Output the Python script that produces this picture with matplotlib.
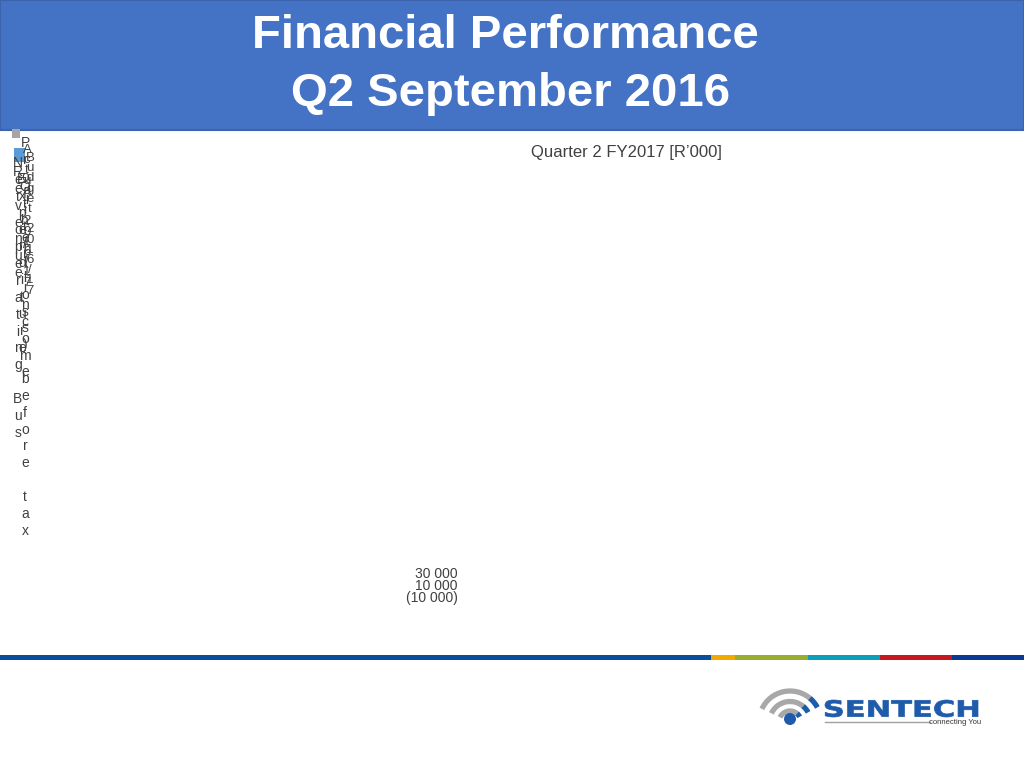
import numpy as np
import matplotlib.pyplot as plt
from matplotlib.patches import Rectangle, Arc, Circle, PathPatch
from matplotlib.textpath import TextPath
from matplotlib.font_manager import FontProperties
from matplotlib.transforms import Affine2D

plt.rcParams['font.family'] = ['Liberation Sans', 'DejaVu Sans']

# 图表数据
title_lines = ["Financial Performance", "Q2 September 2016"]
subtitle = "Quarter 2 FY2017 [R\u2019000]"
categories = ["Revenue", "Expenditure", "Other income",
              "Net operating Bus", "Profit/(loss) before tax"]
legend_labels = ["Actual 2016/17", "Budget 2016/17"]
legend_colors = ["#A6A6A6", "#5B9BD5"]
y_ticks = [30000, 10000, -10000]
stripe_colors = ["#0A4D9C", "#F2A900", "#99AD2F", "#0B9FB8", "#C8171E", "#0B3A94"]
stripe_edges = [0, 711, 735, 808, 880, 952, 1024]


def fmt_tick(v):
    """千位空格, 负数加括号"""
    s = f"{abs(v):,.0f}".replace(",", " ")
    return f"({s})" if v < 0 else s


def vertical(label):
    return "\n".join(label)


fig = plt.figure(figsize=(10.24, 7.68), dpi=100)

# 整幅画布的像素坐标层
ov = fig.add_axes([0, 0, 1, 1])
ov.set_xlim(0, 1024)
ov.set_ylim(768, 0)
ov.axis('off')

# 标题栏
ov.add_patch(Rectangle((0, 0), 1024, 130, facecolor="#4472C4",
                       edgecolor="#3B64AD", linewidth=1.5))
ov.text(505, 36, title_lines[0], color="white", fontsize=34,
        fontweight='bold', ha='center', va='center')
ov.text(511, 94, title_lines[1], color="white", fontsize=34,
        fontweight='bold', ha='center', va='center')

ov.text(626, 153, subtitle, color="#404040", fontsize=12,
        ha='center', va='center')

# 图例 (挤在左上角)
ov.add_patch(Rectangle((12, 129), 8, 9, facecolor=legend_colors[0]))
ov.add_patch(Rectangle((14, 148), 11, 14, facecolor=legend_colors[1]))
ov.text(27, 144, vertical(legend_labels[0]), color="#404040", fontsize=9.5,
        ha='center', va='top', linespacing=0.8)
ov.text(30, 152, vertical(legend_labels[1]), color="#404040", fontsize=9.5,
        ha='center', va='top', linespacing=0.8)

# 类别标签 (竖排, 相互重叠)
cat_x = [18, 22, 25, 18, 25]
cat_top = [165, 172, 180, 156, 136]
for lab, cx, ct in zip(categories, cat_x, cat_top):
    ov.text(cx, ct, vertical(lab), color="#404040", fontsize=10,
            ha='center', va='top', linespacing=1.26)

# 被压扁的数值轴
ax = fig.add_axes([459 / 1024, (768 - 598) / 768, 1 / 1024, 28 / 768])
ax.set_ylim(-12500, 33500)
ax.set_yticks(y_ticks)
ax.set_yticklabels([fmt_tick(v) for v in y_ticks], color="#404040", fontsize=10)
ax.tick_params(axis='y', length=0, pad=1)
ax.set_xticks([])
for sp in ax.spines.values():
    sp.set_visible(False)
ax.patch.set_alpha(0)

# 底部彩色条
for c, x0, x1 in zip(stripe_colors, stripe_edges[:-1], stripe_edges[1:]):
    ov.add_patch(Rectangle((x0, 655), x1 - x0, 5, facecolor=c, edgecolor='none'))

# 标志: 无线信号弧线
cx, cy = 790, 719
for r in [31, 20.5, 11]:
    ov.add_patch(Arc((cx, cy + 3), 2 * r, 2 * r, theta1=205, theta2=312,
                     color="#A8A8A8", linewidth=3.8))
    ov.add_patch(Arc((cx, cy + 3), 2 * r, 2 * r, theta1=310, theta2=332,
                     color="#1E5BAA", linewidth=3.8))
ov.add_patch(Circle((cx, cy), 6, facecolor="#1E5BAA"))

# SENTECH 文字拉宽到参考尺寸
tp = TextPath((0, 0), "SENTECH", size=10,
              prop=FontProperties(family='DejaVu Sans', weight='bold'))
bb = tp.get_extents()
sx = (978 - 825) / bb.width
sy = (717 - 700) / bb.height
tr = Affine2D().translate(-bb.x0, -bb.y0).scale(sx, -sy).translate(825, 717)
ov.add_patch(PathPatch(tr.transform_path(tp), facecolor="#1E5BAA",
                       edgecolor="#1E5BAA", linewidth=0.5))
ov.plot([825, 930], [722, 722], color="#A0A0A0", linewidth=1)
ov.text(955, 723, "connecting You", color="#333333", fontsize=5.5,
        ha='center', va='center', fontstretch='condensed')

fig.savefig("out.png", dpi=100)
